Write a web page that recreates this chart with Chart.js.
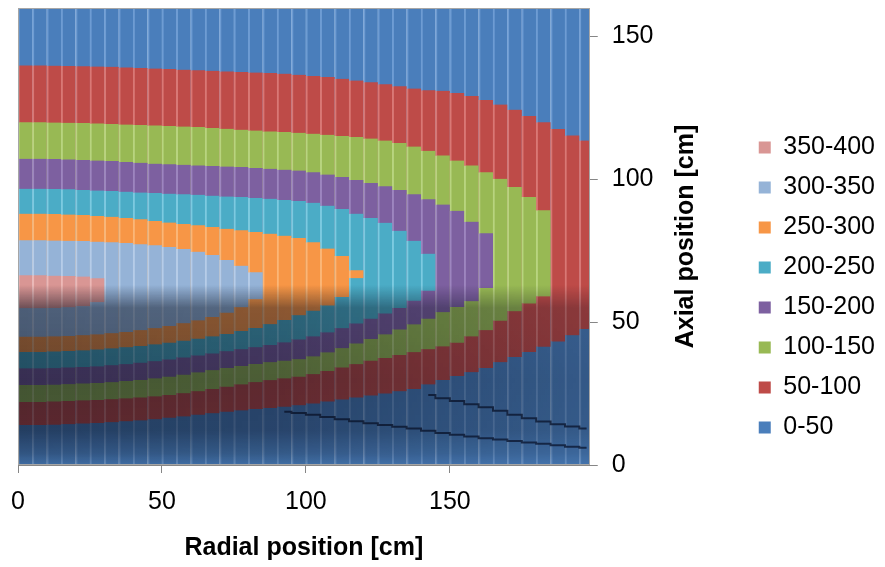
<!DOCTYPE html>
<html>
<head>
<meta charset="utf-8">
<title>Radial / axial contour</title>
<script src="https://cdn.jsdelivr.net/npm/chart.js@4.4.0/dist/chart.umd.min.js"></script>
<style>
  html, body { margin: 0; padding: 0; background: #fff; }
  #wrap { width: 885px; height: 567px; }
</style>
</head>
<body>
<div id="wrap"><canvas id="chart"></canvas></div>
<script>
// column centres along the radius [cm]
const radial = [2.5, 7.5, 12.5, 17.5, 22.5, 27.5, 32.5, 37.5, 42.5, 47.5,
  52.5, 57.5, 62.5, 67.5, 72.5, 77.5, 82.5, 87.5, 92.5, 97.5,
  102.5, 107.5, 112.5, 117.5, 122.5, 127.5, 132.5, 137.5, 142.5, 147.5,
  152.5, 157.5, 162.5, 167.5, 172.5, 177.5, 182.5, 187.5, 192.5, 197.5];

const radialTicks = [0, 50, 100, 150];
const axialTicks = [0, 50, 100, 150];

const bands = ['350-400', '300-350', '250-300', '200-250', '150-200', '100-150', '50-100', '0-50'];

// lower / upper axial edge [cm] of each contour level, per column from r = 0
const upper50 = [139.9, 139.9, 139.8, 139.7, 139.6, 139.5, 139.4, 139.2, 139.0, 138.8,
  138.6, 138.4, 138.2, 138.0, 137.8, 137.6, 137.4, 137.2, 137.0, 136.6,
  136.2, 135.8, 135.2, 134.6, 134.0, 133.3, 132.6, 131.8, 131.2, 131.0,
  130.2, 129.2, 127.8, 126.2, 124.4, 122.2, 120.0, 117.6, 115.4, 113.6];
const lower50 = [14.0, 14.0, 14.1, 14.3, 14.5, 14.7, 15.0, 15.3, 15.6, 16.0,
  16.5, 17.0, 17.6, 18.1, 18.6, 19.1, 19.6, 20.0, 20.4, 20.9,
  21.5, 22.2, 22.9, 23.6, 24.3, 25.0, 25.8, 26.6, 28.2, 29.8,
  31.2, 32.5, 34.0, 36.0, 37.8, 39.6, 41.4, 43.2, 45.4, 47.6];

const upper100 = [120.0, 120.0, 119.9, 119.8, 119.7, 119.6, 119.4, 119.2, 119.0, 118.9,
  118.7, 118.5, 118.3, 118.0, 117.7, 117.4, 117.1, 116.8, 116.6, 116.3,
  116.0, 115.6, 115.2, 114.8, 114.3, 113.6, 112.7, 111.5, 110.0, 108.4,
  106.6, 104.9, 102.5, 100.2, 97.3, 93.8, 89.2];
const lower100 = [22.1, 22.1, 22.2, 22.4, 22.6, 22.8, 23.0, 23.3, 23.6, 24.0,
  24.5, 25.1, 25.8, 26.6, 27.4, 28.2, 29.0, 29.7, 30.3, 30.9,
  31.8, 32.9, 34.1, 35.3, 36.5, 37.5, 38.5, 39.5, 40.5, 41.5,
  42.8, 45.0, 47.2, 50.5, 53.8, 56.5, 59.0];

const upper150 = [107.2, 107.2, 107.1, 107.0, 106.8, 106.6, 106.4, 106.1, 105.8, 105.5,
  105.3, 105.1, 104.9, 104.7, 104.5, 104.3, 104.0, 103.7, 103.4, 103.1,
  102.5, 101.7, 100.8, 99.8, 98.7, 97.6, 96.3, 94.8, 93.0, 91.2,
  89.0, 85.2, 81.1];
const lower150 = [28.0, 28.0, 28.1, 28.3, 28.5, 28.7, 29.0, 29.4, 29.8, 30.3,
  30.9, 31.6, 32.4, 33.2, 34.0, 34.7, 35.4, 36.0, 36.5, 37.0,
  38.0, 39.4, 40.9, 42.5, 44.1, 45.7, 47.4, 49.2, 51.2, 53.5,
  55.3, 57.3, 62.0];

const upper200 = [96.7, 96.7, 96.6, 96.5, 96.3, 96.1, 95.9, 95.7, 95.4, 95.2,
  95.0, 94.8, 94.6, 94.3, 94.0, 93.8, 93.5, 93.2, 92.8, 92.4,
  91.8, 90.8, 89.6, 88.0, 86.5, 84.8, 82.0, 78.5, 74.0];
const lower200 = [33.8, 33.8, 33.9, 34.1, 34.3, 34.5, 34.9, 35.3, 35.8, 36.3,
  36.9, 37.6, 38.3, 39.0, 39.8, 40.5, 41.2, 42.0, 42.9, 43.9,
  45.0, 46.4, 47.9, 49.5, 51.2, 53.0, 55.0, 57.5, 61.0];

const upper250 = [88.0, 88.0, 87.9, 87.7, 87.5, 87.2, 86.9, 86.5, 86.0, 85.4,
  84.9, 84.4, 83.9, 83.3, 82.7, 82.2, 81.6, 81.0, 80.3, 79.5,
  78.0, 75.8, 73.2, 68.2];
const lower250 = [39.6, 39.6, 39.7, 39.9, 40.1, 40.4, 40.8, 41.2, 41.7, 42.2,
  42.8, 43.5, 44.2, 45.0, 45.9, 46.9, 48.0, 49.3, 50.8, 52.4,
  54.0, 55.8, 58.8, 65.4];

const upper300 = [78.7, 78.7, 78.6, 78.5, 78.4, 78.2, 78.0, 77.7, 77.3, 76.9,
  76.3, 75.6, 74.7, 73.5, 71.8, 69.8, 67.5];
const lower300 = [44.9, 44.9, 45.0, 45.2, 45.4, 45.7, 46.1, 46.6, 47.2, 47.9,
  48.7, 49.6, 50.6, 51.8, 53.3, 55.2, 58.0];

const upper350 = [66.4, 66.4, 66.3, 66.2, 66.0, 65.4];
const lower350 = [54.9, 54.9, 55.0, 55.2, 55.6, 57.0];

// dark mesh lines inside the 0-50 region (lower right)
const meshA = [18.6, 18.2, 17.6, 16.8, 16.0, 15.3, 14.6, 14.0, 13.4, 12.8, 12.0,
  11.2, 10.6, 10.0, 9.4, 8.9, 8.4, 7.9, 7.4, 6.9, 6.4, 6.0];   // from r = 92.5
const meshB = [24.5, 23.4, 22.4, 21.3, 20.2, 19.0, 17.6, 16.4, 15.2, 14.3, 13.5, 12.8]; // from r = 142.5

const fills = ['#D99694', '#95B3D7', '#F79646', '#4BACC6', '#7D60A0', '#98B954', '#BE4B48', '#4A7EBB'];
const edges = ['#EDB8B6', '#B6CCE8', '#FBB677', '#7CCAE0', '#9D85BF', '#B8D47F', '#D97875', '#6E9CD3'];

const FONT = '"Liberation Sans", Arial, sans-serif';

const lowers = [lower350, lower300, lower250, lower200, lower150, lower100, lower50, null];
const uppers = [upper350, upper300, upper250, upper200, upper150, upper100, upper50, null];

const datasets = bands.map((label, i) => {
  let data;
  if (lowers[i]) {
    data = lowers[i].map((lo, k) => ({ x: radial[k], y: [lo, uppers[i][k]] }));
  } else {
    data = radial.map(r => ({ x: r, y: [0, 160] }));
  }
  return {
    label: label,
    data: data,
    backgroundColor: fills[i],
    borderColor: edges[i],
    borderWidth: { left: 2, right: 0, top: 0, bottom: 0 },
    borderSkipped: false
  };
});

function meshLine(values, start) {
  return {
    type: 'line',
    label: 'mesh',
    data: values.map((v, k) => ({ x: radial[start + k], y: v })),
    borderColor: 'rgba(15,30,60,0.8)',
    borderWidth: 2,
    pointRadius: 0,
    stepped: 'middle',
    order: -1
  };
}
datasets.push(meshLine(meshA, 18));
datasets.push(meshLine(meshB, 28));

// 3-D lighting: lower half of the surface is in shadow
const shade = {
  id: 'shade',
  afterDatasetsDraw(chart) {
    const { ctx, chartArea: a, scales: { y } } = chart;
    const w = Math.ceil(a.right - a.left), h = Math.ceil(a.bottom - a.top);
    const off = document.createElement('canvas');
    off.width = w;
    off.height = h;
    const o = off.getContext('2d');
    const y0 = y.getPixelForValue(63) - a.top;
    const at = v => (y.getPixelForValue(v) - a.top - y0) / (h - y0);
    const g = o.createLinearGradient(0, y0, 0, h);
    g.addColorStop(0, 'rgba(5,10,25,0)');
    g.addColorStop(at(55), 'rgba(5,10,25,0.5)');
    g.addColorStop(at(30), 'rgba(5,10,25,0.58)');
    g.addColorStop(at(12), 'rgba(5,10,25,0.55)');
    g.addColorStop(at(4), 'rgba(5,10,25,0.35)');
    g.addColorStop(1, 'rgba(5,10,25,0.15)');
    o.fillStyle = g;
    o.fillRect(0, 0, w, h);
    o.globalCompositeOperation = 'destination-out';
    const hg = o.createLinearGradient(0, 0, w, 0);
    hg.addColorStop(0, 'rgba(0,0,0,0)');
    hg.addColorStop(0.45, 'rgba(0,0,0,0.1)');
    hg.addColorStop(1, 'rgba(0,0,0,0.45)');
    o.fillStyle = hg;
    o.fillRect(0, 0, w, h);
    ctx.drawImage(off, a.left, a.top);

    ctx.save();
    ctx.strokeStyle = '#a6a6a6';
    ctx.lineWidth = 1;
    ctx.strokeRect(a.left + 0.5, a.top + 0.5, w - 1, h - 1);
    ctx.restore();
  }
};

// right-hand axis title reads bottom to top
const yTitle = {
  id: 'yTitle',
  afterDraw(chart) {
    const { ctx, chartArea: a, scales: { y } } = chart;
    ctx.save();
    ctx.translate(y.left + 96, (a.top + a.bottom) / 2);
    ctx.rotate(-Math.PI / 2);
    ctx.font = 'bold 25px ' + FONT;
    ctx.fillStyle = '#000';
    ctx.textAlign = 'center';
    ctx.textBaseline = 'middle';
    ctx.fillText('Axial position [cm]', 0, 0);
    ctx.restore();
  }
};

new Chart(document.getElementById('chart'), {
  type: 'bar',
  data: { datasets: datasets },
  options: {
    responsive: true,
    maintainAspectRatio: false,
    animation: false,
    layout: { padding: { left: 18, top: 8, right: 0, bottom: 0 } },
    datasets: {
      bar: { grouped: false, categoryPercentage: 1, barPercentage: 1 }
    },
    plugins: {
      tooltip: { enabled: false },
      legend: {
        position: 'right',
        labels: {
          font: { family: FONT, size: 25 },
          color: '#000',
          boxWidth: 12,
          boxHeight: 12,
          padding: 15,
          generateLabels: () => bands.map((b, i) => ({
            text: b, fillStyle: fills[i], strokeStyle: fills[i], lineWidth: 0,
            hidden: false, datasetIndex: i, fontColor: '#000'
          }))
        }
      }
    },
    scales: {
      x: {
        type: 'linear',
        min: 0,
        max: 198.6,
        offset: false,
        grid: { offset: false, drawOnChartArea: false, drawTicks: true, tickLength: 8, color: '#868686' },
        border: { color: '#868686' },
        ticks: {
          padding: 14, maxRotation: 0,
          color: '#000', font: { family: FONT, size: 25 }
        },
        afterBuildTicks: s => { s.ticks = radialTicks.map(v => ({ value: v })); },
        title: {
          display: true,
          text: 'Radial position [cm]',
          color: '#000',
          font: { family: FONT, size: 25, weight: 'bold' },
          padding: { top: 0, bottom: 4 }
        },
        afterFit: s => { s.height = 102; s.paddingLeft = 0; s.paddingRight = 0; }
      },
      y: {
        type: 'linear',
        position: 'right',
        min: 0,
        max: 160,
        grid: { drawOnChartArea: false, drawTicks: true, tickLength: 8, color: '#868686' },
        border: { color: '#868686' },
        ticks: {
          padding: 14,
          color: '#000', font: { family: FONT, size: 25 }
        },
        afterBuildTicks: s => { s.ticks = axialTicks.map(v => ({ value: v })); },
        afterFit: s => { s.width = 154; s.paddingTop = 0; s.paddingBottom = 0; }
      }
    }
  },
  plugins: [shade, yTitle]
});
</script>
</body>
</html>
